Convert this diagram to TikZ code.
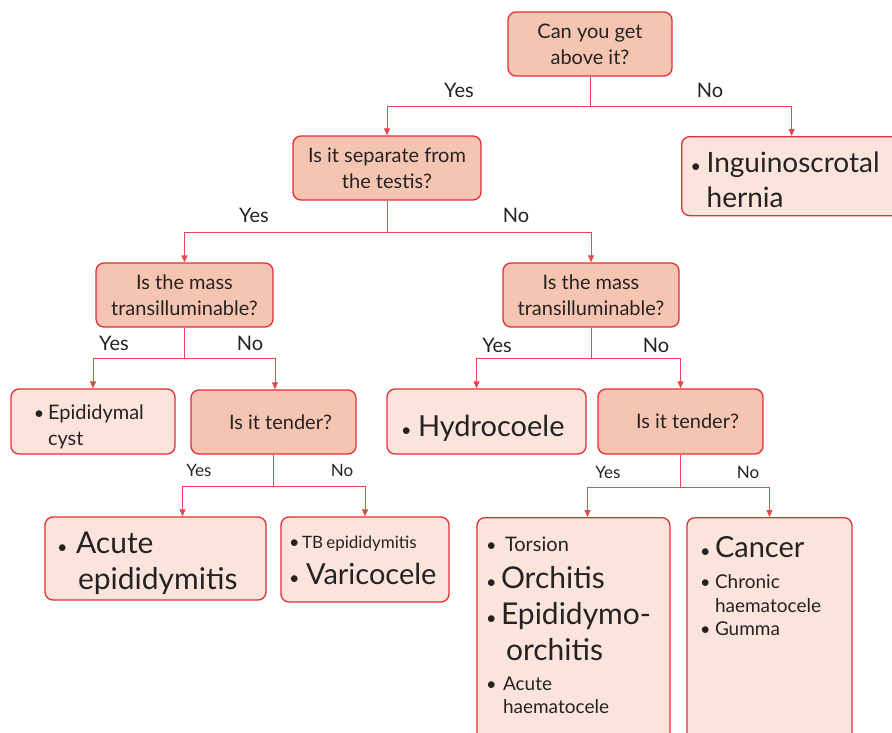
\documentclass[tikz,border=0pt]{standalone}
\usepackage{fontspec}
\setmainfont{Lato}
\usepackage{tikz}
\usetikzlibrary{arrows.meta}
\definecolor{boxred}{RGB}{228,45,55}
\definecolor{linered}{RGB}{232,70,80}
\definecolor{askfill}{RGB}{245,197,177}
\definecolor{leaffill}{RGB}{251,228,219}
\definecolor{inkgray}{RGB}{38,34,35}
\newcommand{\fsz}[2]{\fontsize{#1}{#2}\selectfont}
\newcommand{\bitem}[4]{\par\fsz{#1}{#2}\hangindent=#3\hangafter=1\noindent\makebox[#3][l]{{\fsz{18}{18}\textbullet}}#4\par}

\begin{document}
\begin{tikzpicture}[x=1pt, y=-1pt,
    ask/.style={draw=boxred, line width=1.3pt, fill=askfill, rounded corners=8pt, align=center, text=inkgray, font=\fsz{20}{26}, inner sep=0pt},
    leaf/.style={draw=boxred, line width=1.3pt, fill=leaffill, rounded corners=8pt, align=left, text=inkgray, inner ysep=0pt},
    stem/.style={draw=linered, line width=1pt},
    link/.style={draw=linered, line width=1pt, -{Triangle[length=7pt,width=6pt]}},
    yesno/.style={text=inkgray, font=\fsz{20}{24}},
    yesnosm/.style={text=inkgray, font=\fsz{17}{20}}]
    \useasboundingbox (0,0) rectangle (892,732);
    \clip (0,0) rectangle (892,732);

    \node[ask, minimum width=164pt, minimum height=64pt] (q1) at (590,44) {Can you get\\above it?};
    \node[ask, minimum width=188pt, minimum height=64pt] (q2) at (387,168) {Is it separate from\\the testis?};
    \node[ask, minimum width=177pt, minimum height=64pt] (q3a) at (184.5,295) {Is the mass\\transilluminable?};
    \node[ask, minimum width=176pt, minimum height=64pt] (q3b) at (591,295) {Is the mass\\transilluminable?};
    \node[ask, minimum width=165pt, minimum height=64pt] (tenda) at (273.5,422) {\hspace*{14pt}Is it tender?};
    \node[ask, minimum width=165pt, minimum height=65pt] (tendb) at (680.5,421.5) {\hspace*{14pt}Is it tender?};

    \node[leaf, text width=202pt, inner xsep=9pt, minimum height=79pt, anchor=north west] (hernia) at (681,136)
        {\bitem{28}{35}{16pt}{Inguinoscrotal\newline hernia}\vspace*{8pt}};
    \node[leaf, text width=118pt, inner xsep=23pt, minimum height=65pt] (cyst) at (93,421.5)
        {\bitem{20}{26}{14pt}{Epididymal\newline cyst}};
    \node[leaf, text width=171pt, inner xsep=14pt, minimum height=65pt] (hydro) at (486.5,421.5)
        {\bitem{29}{34}{17pt}{Hydrocoele}};
    \node[leaf, text width=197pt, inner xsep=12pt, minimum height=83pt] (acute) at (155.5,558.5)
        {\bitem{30}{36}{19pt}{Acute\newline \hspace*{2pt}epididymitis}\vspace*{4pt}};
    \node[leaf, text width=152pt, inner xsep=8pt, minimum height=85pt] (vari) at (365,559.5)
        {\bitem{17}{22}{13pt}{TB epididymitis}\bitem{29}{36}{17pt}{Varicocele}\vspace*{8pt}};
    \node[leaf, inner xsep=9pt, inner ysep=19pt, anchor=north] (tors) at (573.5,517)
        {\begin{minipage}[t][230pt][t]{175pt}\raggedright
        \bitem{20}{26}{19pt}{Torsion}
        \bitem{30}{37}{15pt}{Orchitis}
        \bitem{30}{36}{15pt}{Epididymo-\newline\hspace*{5pt}orchitis}\vspace{7pt}
        \bitem{19}{23}{17pt}{Acute\newline haematocele}
        \end{minipage}};
    \node[leaf, inner xsep=13pt, inner ysep=19pt, anchor=north] (canc) at (769.5,517)
        {\begin{minipage}[t][230pt][t]{139pt}\raggedright
        \bitem{29}{35}{15pt}{Cancer}\vspace{7pt}
        \bitem{19}{24}{15pt}{Chronic\newline haematocele}
        \bitem{19}{23}{15pt}{Gumma}
        \end{minipage}};

    \draw[stem] (q1.south) -- ++(0,30) coordinate (s1);
    \draw[link] (s1) -| (q2);
    \draw[link] (s1) -| (hernia);
    \draw[stem] (q2.south) -- ++(0,32) coordinate (s2);
    \draw[link] (s2) -| (q3a);
    \draw[link] (s2) -| (q3b);
    \draw[stem] (q3a.south) -- ++(0,31) coordinate (s3a);
    \draw[link] (s3a) -| (cyst);
    \draw[link] (s3a) -| ([xshift=1.5pt]tenda.north);
    \draw[stem] (q3b.south) -- ++(0,31) coordinate (s3b);
    \draw[link] (s3b) -| ([xshift=-10pt]hydro.north);
    \draw[link] (s3b) -| (tendb);
    \draw[stem] (tenda.south) -- ++(0,32) coordinate (s4a);
    \draw[link] (s4a) -| ([xshift=27pt]acute.north);
    \draw[link] (s4a) -| (vari);
    \draw[stem] (tendb.south) -- ++(0,32.5) coordinate (s4b);
    \draw[link] (s4b) -| ([xshift=14pt]tors.north);
    \draw[link] (s4b) -| (canc);

    \node[yesno] (q1yes) at (459,90) {Yes};
    \node[yesno] (q1no) at (710,90) {No};
    \node[yesno] (q2yes) at (254,215) {Yes};
    \node[yesno] (q2no) at (516,215) {No};
    \node[yesno] (q3ayes) at (114,343) {Yes};
    \node[yesno] (q3ano) at (250,343) {No};
    \node[yesno] (q3byes) at (497,345) {Yes};
    \node[yesno] (q3bno) at (656,345) {No};
    \node[yesnosm] (t4ayes) at (199,470) {Yes};
    \node[yesnosm] (t4ano) at (342,470) {No};
    \node[yesnosm] (t4byes) at (608,472) {Yes};
    \node[yesnosm] (t4bno) at (748,472) {No};
\end{tikzpicture}
\end{document}
